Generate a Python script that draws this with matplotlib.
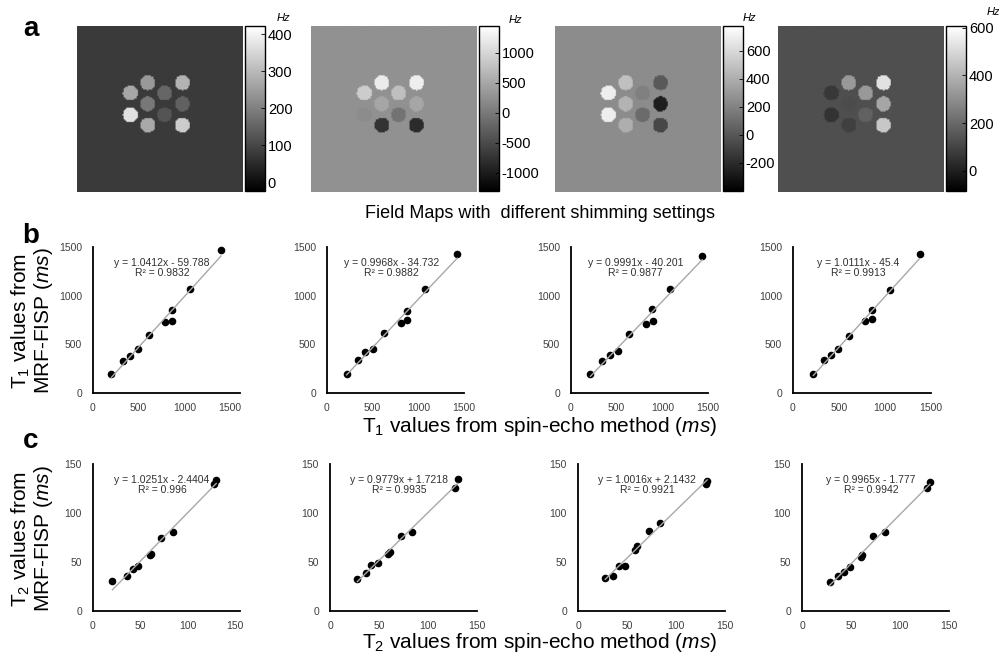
import numpy as np
import matplotlib.pyplot as plt

plt.rcParams['font.family'] = ['Liberation Sans', 'DejaVu Sans']
plt.rcParams['mathtext.fontset'] = 'custom'
plt.rcParams['mathtext.rm'] = 'Liberation Sans'
plt.rcParams['mathtext.it'] = 'Liberation Sans:italic'
plt.rcParams['axes.unicode_minus'] = False

# ---- data ----
# field maps (Hz): background and the 10 vials (top row first, left to right)
fm_background = [79, 267, 247, 130]
fm_vials = [
    [244, 289, 266, 155, 186, 146, 369, 124, 271, 333],
    [1230, 1257, 900, 762, 487, 487, 212, -62, -750, -832],
    [482, 12, 694, 188, 423, -259, 694, 94, 400, -71],
    [331, 524, 68, 331, 123, 365, 54, 179, 89, 455],
]
fm_limits = [(-23, 422), (-1300, 1450), (-400, 776), (-84, 607)]
fm_ticks = [
    [0, 100, 200, 300, 400],
    [-1000, -500, 0, 500, 1000],
    [-200, 0, 200, 400, 600],
    [0, 200, 400, 600],
]

# T1 (ms): spin-echo vs MRF-FISP
t1_se = [
    [202, 331, 408, 489, 618, 790, 868, 868, 1059, 1401],
    [215, 344, 415, 500, 622, 807, 881, 881, 1074, 1426],
    [213, 343, 425, 511, 631, 817, 896, 892, 1082, 1437],
    [221, 339, 418, 489, 614, 786, 864, 864, 1054, 1375],
]
t1_mrf = [
    [192, 329, 384, 455, 599, 726, 740, 849, 1072, 1473],
    [199, 336, 418, 452, 616, 719, 753, 839, 1068, 1432],
    [199, 329, 387, 428, 603, 712, 740, 860, 1065, 1404],
    [199, 342, 387, 452, 589, 743, 764, 849, 1055, 1432],
]
t1_fit = [(1.0412, -59.788, 0.9832), (0.9968, -34.732, 0.9882),
          (0.9991, -40.201, 0.9877), (1.0111, -45.4, 0.9913)]

# T2 (ms): spin-echo vs MRF-FISP
t2_se = [
    [20.5, 35.7, 41.8, 47.6, 60.5, 61.2, 72.1, 84.4, 127.6, 129.9],
    [27.8, 36.3, 41.7, 48.5, 59.3, 61.0, 72.2, 84.1, 127.1, 130.5],
    [27.8, 35.6, 41.4, 47.5, 58.3, 60.0, 72.5, 83.7, 130.5, 131.8],
    [28.1, 36.6, 43.1, 48.5, 60.0, 61.7, 72.9, 84.7, 127.1, 130.5],
]
t2_mrf = [
    [30.7, 35.8, 42.6, 45.9, 57.1, 57.8, 74.7, 80.7, 129.7, 133.8],
    [32.4, 38.6, 46.8, 48.5, 58.0, 59.7, 76.1, 80.2, 125.3, 134.8],
    [33.7, 35.7, 45.8, 45.5, 62.6, 66.7, 81.8, 90.2, 130.0, 132.3],
    [29.7, 35.8, 39.9, 45.1, 54.6, 57.3, 76.8, 80.2, 125.3, 131.4],
]
t2_fit = [(1.0251, -2.4404, 0.996), (0.9779, 1.7218, 0.9935),
          (1.0016, 2.1432, 0.9921), (0.9965, -1.777, 0.9942)]

# ---- layout helpers (pixel coords, top-left origin) ----
W, H = 999, 662
fig = plt.figure(figsize=(W / 100, H / 100), dpi=100)


def px_axes(x, y, w, h):
    return fig.add_axes([x / W, 1 - (y + h) / H, w / W, h / H])


def px_text(x, y, s, **kw):
    fig.text(x / W, 1 - y / H, s, **kw)


# ---- row a: field maps ----
N = 128
yy, xx = np.mgrid[0:N, 0:N] / N
vial_cols = [0.318, 0.423, 0.524, 0.631]
vial_rows = [0.338, 0.400, 0.465, 0.531, 0.593]
vial_grid = [(0, 1), (0, 3), (1, 0), (1, 2), (2, 1), (2, 3), (3, 0), (3, 2), (4, 1), (4, 3)]
radius = 0.045

img_left = [77, 311, 555, 778]
hz_pos = [(283, 18), (515, 20), (749, 18), (993, 12)]
for i in range(4):
    img = np.full((N, N), float(fm_background[i]))
    for (r, c), v in zip(vial_grid, fm_vials[i]):
        img[np.hypot(xx - vial_cols[c], yy - vial_rows[r]) < radius] = v
    ax = px_axes(img_left[i], 26, 166, 166)
    im = ax.imshow(img, cmap='gray', vmin=fm_limits[i][0], vmax=fm_limits[i][1],
                   interpolation='bilinear', aspect='auto')
    ax.axis('off')
    cax = px_axes(img_left[i] + 168, 26, 20, 165)
    cb = fig.colorbar(im, cax=cax, ticks=fm_ticks[i])
    cb.outline.set_linewidth(1.0)
    cax.tick_params(direction='in', length=3, width=0.6, labelsize=10.5, pad=2)
    px_text(hz_pos[i][0], hz_pos[i][1], 'Hz', fontsize=8, style='italic',
            ha='center', va='center')

px_text(540, 213, 'Field Maps with  different shimming settings', fontsize=13,
        ha='center', va='center')


# ---- rows b and c: scatter plots ----
def scatter_panel(ax, xs, ys, fit, lim, ticks):
    ax.scatter(xs, ys, s=20, color='black', zorder=2, clip_on=False)
    coef = np.polyfit(xs, ys, 1)
    xl = np.array([min(xs), max(xs)])
    ax.plot(xl, np.polyval(coef, xl), color='#a8a8a8', lw=1.0, zorder=3)
    slope, icpt, r2 = fit
    sign = '-' if icpt < 0 else '+'
    ax.text(0.47, 0.925, f'y = {slope:g}x {sign} {abs(icpt):g}\nR² = {r2:g}',
            transform=ax.transAxes, ha='center', va='top', fontsize=7.5,
            color='#303030', linespacing=1.0)
    ax.set_xlim(0, lim[0])
    ax.set_ylim(0, lim[1])
    ax.set_xticks(ticks)
    ax.set_yticks(ticks)
    for s in ['top', 'right']:
        ax.spines[s].set_visible(False)
    for s in ['left', 'bottom']:
        ax.spines[s].set_linewidth(1.3)
    ax.tick_params(length=0, labelsize=7.5, labelcolor='#404040')
    ax.tick_params(axis='x', pad=7)
    ax.tick_params(axis='y', pad=8)


b_left = [93, 327, 571, 793]
b_width = [147, 137, 137, 138]
b_xmax = [1610, 1500, 1500, 1500]
for i in range(4):
    ax = px_axes(b_left[i], 247, b_width[i], 146)
    scatter_panel(ax, t1_se[i], t1_mrf[i], t1_fit[i], (b_xmax[i], 1500),
                  [0, 500, 1000, 1500])

c_left = [93, 330, 578, 802]
c_xmax = [155, 150, 150, 150]
for i in range(4):
    ax = px_axes(c_left[i], 464, 147, 147)
    scatter_panel(ax, t2_se[i], t2_mrf[i], t2_fit[i], (c_xmax[i], 150),
                  [0, 50, 100, 150])

# axis titles
px_text(540, 426, r'T$_1$ values from spin-echo method ($\it{ms}$)', fontsize=15,
        ha='center', va='center')
px_text(540, 643, r'T$_2$ values from spin-echo method ($\it{ms}$)', fontsize=15,
        ha='center', va='center')
px_text(32, 321, 'T$_1$ values from\nMRF-FISP ($\\it{ms}$)', fontsize=15,
        rotation=90, ha='center', va='center', multialignment='center',
        linespacing=1.0)
px_text(32, 539, 'T$_2$ values from\nMRF-FISP ($\\it{ms}$)', fontsize=15,
        rotation=90, ha='center', va='center', multialignment='center',
        linespacing=1.0)

# panel letters
px_text(31, 29, 'a', fontsize=20, fontweight='bold', ha='center', va='center')
px_text(31, 236, 'b', fontsize=20, fontweight='bold', ha='center', va='center')
px_text(31, 441, 'c', fontsize=20, fontweight='bold', ha='center', va='center')

fig.savefig('out.png', dpi=100)
